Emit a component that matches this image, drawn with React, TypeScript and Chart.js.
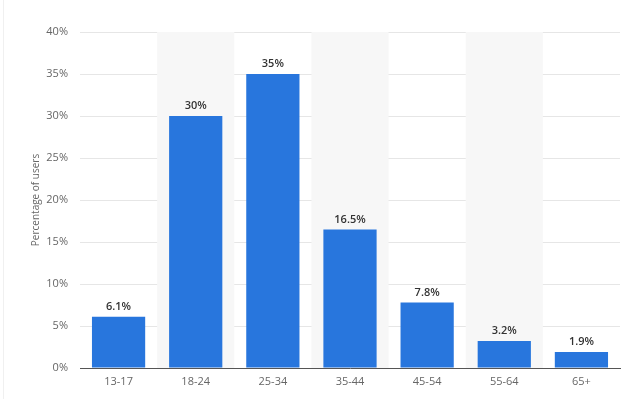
import React, { useEffect, useRef } from "react";
import { Chart, registerables } from "chart.js";

Chart.register(...registerables);

const categories = ["13-17", "18-24", "25-34", "35-44", "45-54", "55-64", "65+"];
const shares = [6.1, 30, 35, 16.5, 7.8, 3.2, 1.9];
const shareLabels = ["6.1%", "30%", "35%", "16.5%", "7.8%", "3.2%", "1.9%"];
const yTicks = [0, 5, 10, 15, 20, 25, 30, 35, 40];
const yTitle = "Percentage of users";

const bandPlugin = {
  id: "bands",
  beforeDatasetsDraw(chart: any) {
    const { ctx, chartArea, scales } = chart;
    const x = scales.x;
    const step = (chartArea.right - chartArea.left) / categories.length;
    ctx.save();
    ctx.fillStyle = "#f7f7f7";
    categories.forEach((_, i) => {
      if (i % 2 === 1) {
        const c = x.getPixelForValue(i);
        ctx.fillRect(c - step / 2, chartArea.top, step, chartArea.bottom - chartArea.top);
      }
    });
    ctx.restore();
  },
  beforeDraw(chart: any) {
    const { ctx, width, height } = chart;
    ctx.save();
    ctx.fillStyle = "#ffffff";
    ctx.fillRect(0, 0, width, height);
    ctx.strokeStyle = "#f0f0f0";
    ctx.lineWidth = 1;
    ctx.beginPath();
    ctx.moveTo(3.5, 0);
    ctx.lineTo(3.5, height);
    ctx.stroke();
    ctx.restore();
  },
};

const labelPlugin = {
  id: "valueLabels",
  afterDatasetsDraw(chart: any) {
    const { ctx } = chart;
    const meta = chart.getDatasetMeta(0);
    ctx.save();
    ctx.font = "600 11px 'Open Sans'";
    ctx.fillStyle = "#333333";
    ctx.textAlign = "center";
    ctx.textBaseline = "middle";
    meta.data.forEach((bar: any, i: number) => {
      ctx.fillText(shareLabels[i], bar.x, bar.y - 10);
    });
    ctx.restore();
  },
};

export default function App() {
  const ref = useRef<HTMLCanvasElement>(null);
  useEffect(() => {
    document.body.style.margin = "0";
    const chart = new Chart(ref.current!, {
      type: "bar",
      data: {
        labels: categories,
        datasets: [
          {
            data: shares,
            backgroundColor: "#2876dd",
            categoryPercentage: 1,
            barPercentage: 0.69,
          },
        ],
      },
      options: {
        animation: false,
        responsive: false,
        layout: { padding: { top: 32, right: 8, bottom: 8, left: 0 } },
        plugins: { legend: { display: false }, tooltip: { enabled: false } },
        scales: {
          x: {
            afterFit(scale: any) {
              scale.height = 23;
            },
            grid: { display: false, drawTicks: false },
            border: { display: true, color: "#555555", width: 1 },
            ticks: {
              padding: 7,
              color: "#666666",
              font: { family: "'Open Sans'", size: 11 },
            },
          },
          y: {
            min: 0,
            max: 40,
            afterFit(scale: any) {
              scale.width = 80;
            },
            afterBuildTicks(scale: any) {
              scale.ticks = yTicks.map((v) => ({ value: v }));
            },
            grid: { color: "#e6e6e6", drawTicks: false },
            border: { display: false },
            ticks: {
              padding: 12,
              color: "#666666",
              font: { family: "'Open Sans'", size: 11 },
              callback: (v: any) => v + "%",
            },
            title: {
              display: true,
              text: yTitle,
              color: "#666666",
              font: { family: "'Open Sans'", size: 10 },
              padding: { top: 30, bottom: 0 },
            },
          },
        },
      },
      plugins: [bandPlugin, labelPlugin],
    });
    return () => chart.destroy();
  }, []);
  return (
    <div style={{ width: 628, height: 399 }}>
      <canvas ref={ref} width={628} height={399} style={{ display: "block" }} />
    </div>
  );
}
